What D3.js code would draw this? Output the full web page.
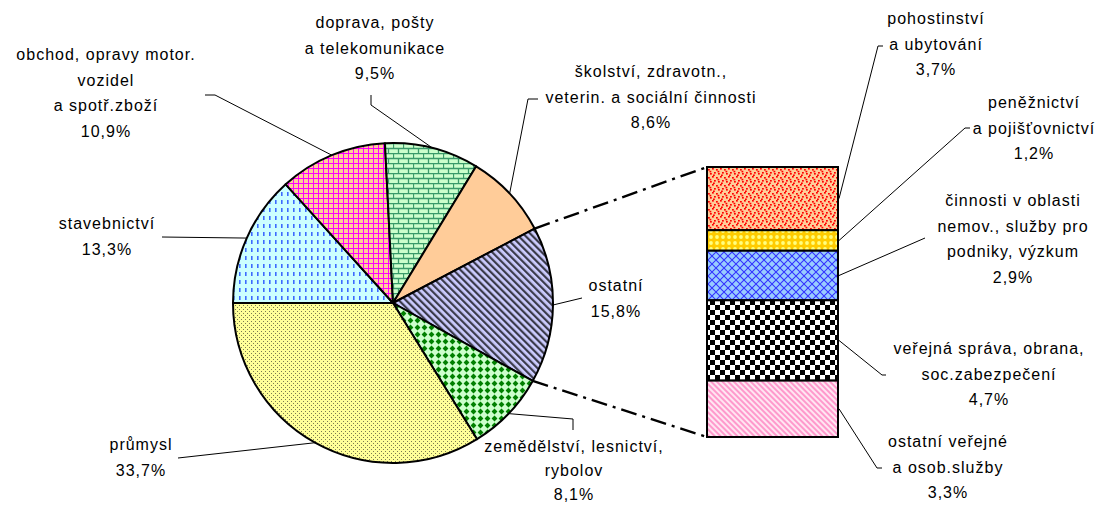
<!DOCTYPE html>
<html>
<head>
<meta charset="utf-8">
<script src="https://cdn.jsdelivr.net/npm/d3@7/dist/d3.min.js"></script>
<style>
  body { margin: 0; background: #fff; }
  text { font-family: "Liberation Sans", Arial, sans-serif; font-size: 16px; letter-spacing: 1px; fill: #000; }
</style>
</head>
<body>
<script>
(function() {
	"use strict";
	// pie: clockwise from 9 o'clock
	const PIE_CATS = [ "stavebnictví", "obchod, opravy motor.\nvozidel\na spotř.zboží",
	                   "doprava, pošty\na telekomunikace", "školství, zdravotn.,\nveterin. a sociální činnosti",
	                   "ostatní", "zemědělství, lesnictví,\nrybolov", "průmysl" ],
	   PIE_VALUES = [ 13.3, 10.9, 9.5, 8.6, 15.8, 8.1, 33.7 ],
	   BAR_CATS = [ "pohostinství\na ubytování", "peněžnictví\na pojišťovnictví",
	                "činnosti v oblasti\nnemov., služby pro\npodniky, výzkum",
	                "veřejná správa, obrana,\nsoc.zabezpečení", "ostatní veřejné\na osob.služby" ],
	   BAR_VALUES = [ 3.7, 1.2, 2.9, 4.7, 3.3 ],
	   SPLIT_INDEX = 4;

	const W = 1101, H = 506, cx = 393, cy = 303, R = 160;
	const fmt = v => d3.format(".1f")(v).replace(".", ",") + "%";

	// label layout: [center x, first baseline, line step], leader elbow points
	const PIE_LAB = [ [107, 229], [106, 60], [375, 28], [651, 77], [616, 291], [574, 452, 24], [141, 450] ],
	   PIE_LEAD = [ [[162, 237]], [[215, 95], [205, 95]], [[371, 105], [371, 95]], [[528, 99], [538, 99]],
	                [[582, 298]], [[573, 419], [573, 430]], [[178, 458]] ],
	   BAR_LAB = [ [936, 24], [1034, 108], [1013, 206], [989, 354], [948, 447] ],
	   BAR_LEAD = [ [[878, 46], [883, 46]], [[965, 128], [970, 128]], [[925, 238]],
	                [[882, 375], [886, 375]], [[877, 468], [882, 468]] ];
	const LINE_H = 25.5;

	let svg = d3.select("body").append("svg").attr("width", W).attr("height", H);
	let defs = svg.append("defs");

	function pat(id, w, h, bg, rot) {
		let p = defs.append("pattern").attr("id", id).attr("patternUnits", "userSpaceOnUse")
			.attr("width", w).attr("height", h);
		if (rot) p.attr("patternTransform", "rotate(" + rot + ")");
		p.append("rect").attr("width", w).attr("height", h).attr("fill", bg);
		return p;
	}
	// stavebnictví – blue dashes
	let p = pat("p0", 6, 8, "#CCFFFF");
	p.append("rect").attr("x", 2).attr("y", 1).attr("width", 1.6).attr("height", 4).attr("fill", "#3D6BFF");
	// obchod – magenta grid
	p = pat("p1", 5, 5, "#FFCC99");
	p.append("rect").attr("width", 5).attr("height", 1).attr("fill", "#FF00FF");
	p.append("rect").attr("width", 1).attr("height", 5).attr("fill", "#FF00FF");
	// doprava – bricks
	p = pat("p2", 10, 10, "#CCFFCC");
	p.append("path").attr("d", "M0,0.5H10M0,5.5H10M0.5,0V5M5.5,5V10")
		.attr("stroke", "#3A9A6A").attr("stroke-width", 1.3).attr("fill", "none");
	// školství – solid peach
	p = pat("p3", 4, 4, "#FFCC99");
	// ostatní – dark diagonal stripes
	p = pat("p4", 5, 5, "#CCCCFF", -45);
	p.append("rect").attr("width", 2.2).attr("height", 5).attr("fill", "#3a3a4a");
	// zemědělství – green diamonds
	p = pat("p5", 7, 7, "#CCFFCC");
	p.append("polygon").attr("points", "3.5,0.6 6.4,3.5 3.5,6.4 0.6,3.5").attr("fill", "#008000");
	// průmysl – dots
	p = pat("p6", 4, 4, "#FFFF99");
	p.append("rect").attr("x", 0).attr("y", 0).attr("width", 1).attr("height", 1).attr("fill", "#7a7a50");
	p.append("rect").attr("x", 2).attr("y", 2).attr("width", 1).attr("height", 1).attr("fill", "#7a7a50");
	// pohostinství – red confetti
	p = pat("b0", 8, 8, "#FFCC99");
	[[0, 0], [4, 1], [2, 4], [6, 5], [1, 6.5], [5.5, 2.8]].forEach(q =>
		p.append("rect").attr("x", q[0]).attr("y", q[1]).attr("width", 1.8).attr("height", 1.6).attr("fill", "#FF0000"));
	// peněžnictví – yellow spheres
	p = pat("b1", 6, 6, "#FFCC00");
	p.append("circle").attr("cx", 3).attr("cy", 3).attr("r", 1.9).attr("fill", "#FFFF80");
	// činnosti – blue trellis
	p = pat("b2", 8, 8, "#99CCFF");
	p.append("path").attr("d", "M0,0L8,8M8,0L0,8").attr("stroke", "#3333FF").attr("stroke-width", 1.1);
	// veřejná – checkerboard
	p = pat("b3", 10, 10, "#FFFFFF");
	p.append("rect").attr("width", 5).attr("height", 5).attr("fill", "#000");
	p.append("rect").attr("x", 5).attr("y", 5).attr("width", 5).attr("height", 5).attr("fill", "#000");
	// ostatní veřejné – pink diagonals
	p = pat("b4", 4, 4, "#FFE6F2", -45);
	p.append("rect").attr("width", 2).attr("height", 4).attr("fill", "#FF99CC");

	// pie
	const total = d3.sum(PIE_VALUES);
	let pie = d3.pie().sort(null).value(d => d)
		.startAngle(-Math.PI / 2).endAngle(-Math.PI / 2 + 2 * Math.PI * total / 100);
	let arcs = pie(PIE_VALUES);
	arcs[arcs.length - 1].endAngle = 1.5 * Math.PI;
	let arc = d3.arc().innerRadius(0).outerRadius(R);
	let edge = d3.arc().innerRadius(R).outerRadius(R);

	let g = svg.append("g").attr("transform", "translate(" + cx + "," + cy + ")");
	g.selectAll("path").data(arcs).enter().append("path")
		.attr("d", arc).attr("fill", (d, i) => "url(#p" + i + ")")
		.attr("stroke", "#000").attr("stroke-width", 2).attr("stroke-linejoin", "round");

	// bar
	const barTotal = d3.sum(BAR_VALUES);
	let y = d3.scaleLinear().domain([0, barTotal]).range([167, 437]);
	let x = d3.scaleBand().domain(["ostatní"]).range([707, 838]).padding(0);
	let cum = d3.cumsum(BAR_VALUES);
	let segs = BAR_VALUES.map((v, i) => ({ v: v, y0: cum[i] - v, y1: cum[i] }));
	svg.append("g").selectAll("rect").data(segs).enter().append("rect")
		.attr("x", x("ostatní")).attr("width", x.bandwidth())
		.attr("y", d => y(d.y0)).attr("height", d => y(d.y1) - y(d.y0))
		.attr("fill", (d, i) => "url(#b" + i + ")")
		.attr("stroke", "#000").attr("stroke-width", 2);

	// connectors pie -> bar
	let sa = arcs[SPLIT_INDEX];
	const pt = a => [cx + R * Math.sin(a), cy - R * Math.cos(a)];
	let conn = [ [pt(sa.startAngle), [x("ostatní"), y(0)]], [pt(sa.endAngle), [x("ostatní"), y(barTotal)]] ];
	svg.append("g").selectAll("path").data(conn).enter().append("path")
		.attr("d", d => d3.line()(d)).attr("stroke", "#000").attr("stroke-width", 2.4)
		.attr("stroke-dasharray", "16,6,3,6").attr("fill", "none");

	// leaders
	let line = d3.line();
	let leaders = svg.append("g").attr("fill", "none").attr("stroke", "#000").attr("stroke-width", 1);
	arcs.forEach((d, i) => {
		let c = edge.centroid(d);
		leaders.append("path").attr("d", line([[cx + c[0], cy + c[1]]].concat(PIE_LEAD[i])));
	});
	segs.forEach((d, i) => {
		let a = [x("ostatní") + x.bandwidth() + 1, (y(d.y0) + y(d.y1)) / 2];
		leaders.append("path").attr("d", line([a].concat(BAR_LEAD[i])));
	});

	// labels
	function label(cat, val, pos) {
		let lines = cat.split("\n").concat([fmt(val)]);
		let step = pos[2] || LINE_H;
		let t = svg.append("text").attr("text-anchor", "middle");
		t.selectAll("tspan").data(lines).enter().append("tspan")
			.attr("x", pos[0]).attr("y", (d, i) => pos[1] + i * step).text(d => d);
	}
	PIE_CATS.forEach((c, i) => label(c, PIE_VALUES[i], PIE_LAB[i]));
	BAR_CATS.forEach((c, i) => label(c, BAR_VALUES[i], BAR_LAB[i]));
}());
</script>
</body>
</html>
